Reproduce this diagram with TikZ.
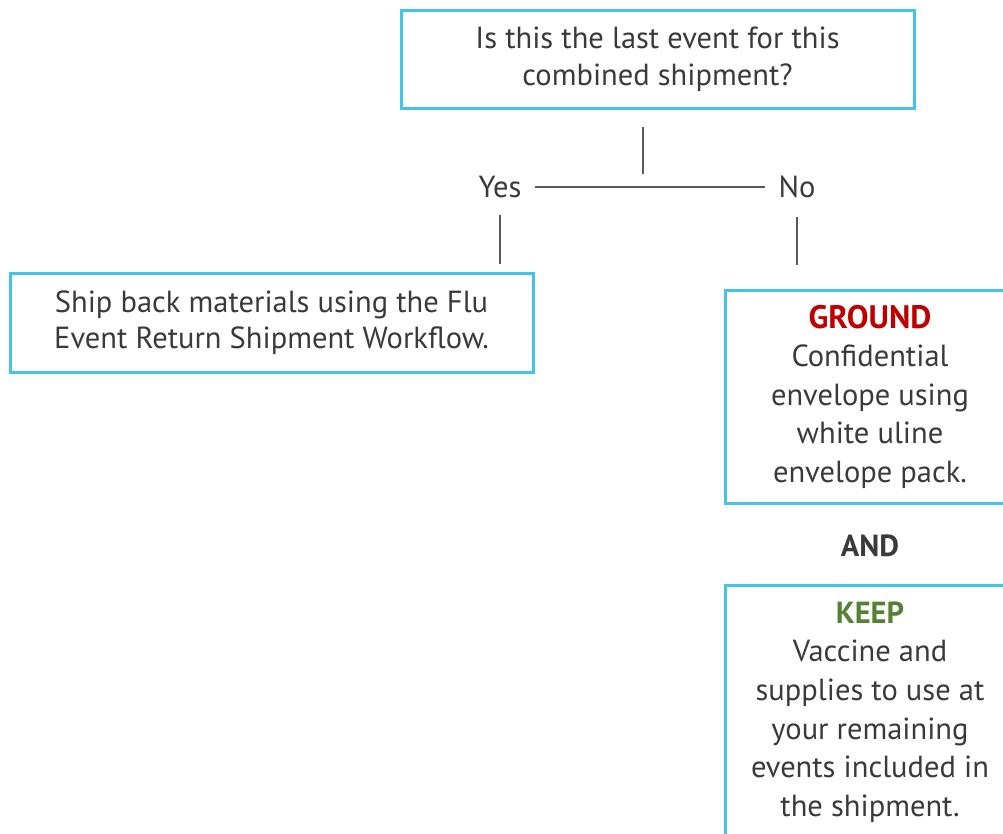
\documentclass[tikz,border=0pt]{standalone}
\usepackage{fontspec}
\setmainfont{PT Sans}
\definecolor{boxblue}{HTML}{45C3E8}
\definecolor{txt}{HTML}{3A3A3A}
\definecolor{grd}{HTML}{C00000}
\definecolor{kp}{HTML}{548235}
\definecolor{conncol}{HTML}{5A5A5A}
\begin{document}
\begin{tikzpicture}[x=1pt,y=-1pt,
  box/.style={draw=boxblue, line width=3pt, align=center, text=txt,
    font=\fontsize{30.5}{36.5}\selectfont, inner sep=0pt},
  lbl/.style={text=txt, font=\fontsize{30.5}{36}\selectfont, text height=21pt,
    text depth=0pt, inner xsep=13pt, inner ysep=17pt},
  conn/.style={draw=conncol, line width=1.3pt}]
\useasboundingbox (0,0) rectangle (1003,833);
\node[box, minimum width=513pt, minimum height=98pt] (q) at (657.5,59)
  {Is this the last event for this\\combined shipment?};
\node[lbl] (yes) at (500,187) {Yes};
\node[lbl] (no) at (797,187) {No};
\coordinate (fork) at (643,187);
\node[box, minimum width=523pt, minimum height=99pt] (left) at (271.5,322.5)
  {Ship back materials using the Flu\\Event Return Shipment Workflow.};
\node[box, minimum width=290pt, minimum height=213pt, font=\fontsize{30.5}{38.5}\selectfont] (gnd) at (870,396.5)
  {\textcolor{grd}{\textbf{\fontsize{32.5}{38.5}\selectfont GROUND}}\\Confidential\\envelope using\\white uline\\envelope pack.};
\node[text=txt, font=\fontsize{30.5}{36}\selectfont\bfseries] (and) at (870,546) {AND};
\node[box, minimum width=290pt, minimum height=254pt, font=\fontsize{30.5}{38.6}\selectfont] (keep) at (870,712)
  {\textcolor{kp}{\textbf{KEEP}}\\Vaccine and\\supplies to use at\\your remaining\\events included in\\the shipment.};
\draw[conn] (yes.east) -- (no.west);
\draw[conn, shorten <=17pt, shorten >=13pt] (q.south -| fork) -- (fork);
\draw[conn, shorten >=8pt] (yes.south) -- (left.north -| yes.south);
\draw[conn, shorten <=2pt, shorten >=24pt] (no.south) -- (gnd.north -| no.south);
\end{tikzpicture}
\end{document}
